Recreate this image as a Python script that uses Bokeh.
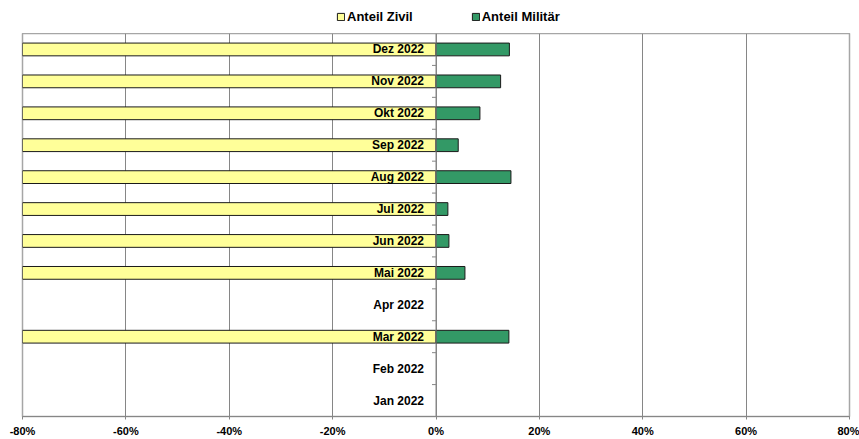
import math
from bokeh.plotting import figure
from bokeh.layouts import column
from bokeh.models import ColumnDataSource, FixedTicker, Legend, LegendItem, Range1d, Span
from bokeh.embed import file_html
from bokeh.resources import INLINE
from bokeh.core.properties import value

nan = float("nan")

# Data (bottom to top)
months = ["Jan 2022", "Feb 2022", "Mar 2022", "Apr 2022", "Mai 2022", "Jun 2022",
          "Jul 2022", "Aug 2022", "Sep 2022", "Okt 2022", "Nov 2022", "Dez 2022"]
anteil_militaer = [nan, nan, 14.1, nan, 5.6, 2.5, 2.3, 14.5, 4.3, 8.5, 12.5, 14.2]
anteil_zivil = [nan, nan, 85.9, nan, 94.4, 97.5, 97.7, 85.5, 95.7, 91.5, 87.5, 85.8]
tick_values = [-80, -60, -40, -20, 0, 20, 40, 60, 80]
tick_labels = ["-80%", "-60%", "-40%", "-20%", "0%", "20%", "40%", "60%", "80%"]
series_names = ["Anteil Zivil", "Anteil Militär"]

FONT = "Liberation Sans"
YELLOW = "#FFFF99"
GREEN = "#339966"
OUTLINE = "#1a1a1a"
GRID = "#868686"

ypos = list(range(len(months)))
src = ColumnDataSource(dict(
    y=ypos,
    label=months,
    zivil=[-v for v in anteil_zivil],
    mil=anteil_militaer,
))

# ---- legend strip ----
lf = figure(width=859, height=33, output_backend="svg", toolbar_location=None,
            x_range=Range1d(0, 1), y_range=Range1d(0, 1),
            min_border_left=0, min_border_right=0, min_border_top=0, min_border_bottom=0)
lf.axis.visible = False
lf.grid.visible = False
lf.outline_line_color = None
lf.background_fill_color = "white"
lf.border_fill_color = "white"
blank = ColumnDataSource(dict(y=[nan], l=[nan], r=[nan]))
lz = lf.hbar(y="y", left="l", right="r", height=0.4, source=blank,
             fill_color=YELLOW, line_color=OUTLINE, line_width=1)
lm = lf.hbar(y="y", left="l", right="r", height=0.4, source=blank,
             fill_color=GREEN, line_color=OUTLINE, line_width=1)
legend = Legend(items=[LegendItem(label=series_names[0], renderers=[lz], index=0),
                       LegendItem(label=series_names[1], renderers=[lm], index=0)],
                orientation="horizontal", location=(314, 9),
                label_text_font=FONT, label_text_font_style="bold",
                label_text_font_size="13px", label_text_color="black",
                glyph_width=9, glyph_height=9, label_height=14, label_standoff=2,
                spacing=58, padding=0, margin=0,
                border_line_color=None, background_fill_alpha=0.0)
lf.add_layout(legend, "center")

# ---- main chart ----
p = figure(width=859, height=406, output_backend="svg", toolbar_location=None,
           x_range=Range1d(-80, 80), y_range=Range1d(-0.5, len(months) - 0.5),
           min_border_left=22, min_border_right=10, min_border_top=0, min_border_bottom=23)

p.background_fill_color = "white"
p.border_fill_color = "white"
p.outline_line_color = "#a6a6a6"
p.outline_line_width = 1.5

ticker = FixedTicker(ticks=tick_values)
p.xaxis.ticker = ticker
p.xaxis.major_label_overrides = {k: v for k, v in zip(tick_values, tick_labels)}
p.xaxis.major_label_text_font = FONT
p.xaxis.major_label_text_font_style = "bold"
p.xaxis.major_label_text_font_size = "11px"
p.xaxis.major_label_text_color = "black"
p.xaxis.major_label_standoff = 5
p.xaxis.axis_line_color = GRID
p.xaxis.major_tick_line_color = GRID
p.xaxis.major_tick_in = 0
p.xaxis.major_tick_out = 3
p.xaxis.minor_tick_line_color = None

p.yaxis.visible = False
p.xgrid.ticker = ticker
p.xgrid.grid_line_color = GRID
p.xgrid.grid_line_width = 1
p.ygrid.visible = False

p.hbar(y="y", left="zivil", right=0, height=0.4, source=src,
       fill_color=YELLOW, line_color=OUTLINE, line_width=1)
p.hbar(y="y", left=0, right="mil", height=0.4, source=src,
       fill_color=GREEN, line_color=OUTLINE, line_width=1)

# vertical category axis at 0 with ticks between categories
p.add_layout(Span(location=0, dimension="height", line_color=GRID, line_width=1))
boundaries = [y + 0.5 for y in ypos[:-1]]
p.ray(x=[0] * len(boundaries), y=boundaries, length=4, length_units="screen",
      angle=math.pi, line_color=GRID, line_width=1)

p.text(x=0, y="y", text="label", source=src, x_offset=-12,
       text_align="right", text_baseline="middle",
       text_font=value(FONT), text_font_style="bold", text_font_size="12px",
       text_color="black")

layout = column(lf, p, spacing=0)
open("out.html", "w").write(file_html(layout, INLINE))
